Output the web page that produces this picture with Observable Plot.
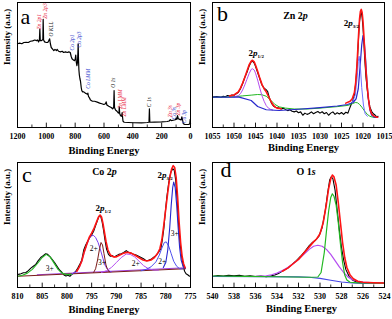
<!DOCTYPE html>
<html><head><meta charset="utf-8">
<script src="https://cdn.jsdelivr.net/npm/d3@7"></script>
<script src="https://cdn.jsdelivr.net/npm/@observablehq/plot@0.6"></script>
<style>
body{margin:0;background:#fff;}
#wrap{position:relative;width:392px;height:319px;overflow:hidden;background:#fff;}
#wrap svg{position:absolute;overflow:visible;}
</style></head><body><div id="wrap"></div>
<script>
// ---------- Panel a: survey ----------
const surveyTicks = [1200,1000,800,600,400,200,0];
const surveyMinor = [1100,900,700,500,300,100];
const survey = [[1200,67],[1185,67.5],[1170,67],[1156,68],[1140,68.2],[1125,68],[1110,69],[1095,69.3],[1080,70],[1068,69.5],[1060,70],[1054,68.5],[1048,70],[1045,78.5],[1042,69.5],[1035,69.5],[1028,70],[1024,70.5],[1022,86.5],[1019,70],[1012,68.5],[1000,68],[990,68],[983,69.5],[977,71],[972,67],[966,64],[955,62.5],[948,61.5],[940,62.5],[930,61.5],[925,62.5],[915,61],[902,60.5],[890,61],[880,60],[867,60.5],[855,60],[844,60.5],[834,60],[828,57],[822,55],[812,54],[805,53.5],[800,54.5],[796,58],[792,52],[788,49.5],[784,52],[781,60],[779,67],[777,55],[774,46],[771,42],[767,39],[763,37],[758,32],[754,29.5],[748,28.5],[740,28.5],[730,27.5],[721,27],[715,26.5],[712,27.5],[708,25],[700,23.5],[694,22],[680,21],[665,21],[647,20.3],[630,19.5],[615,19],[601,18.4],[590,19],[585,20.5],[580,18],[567,17],[550,16],[540,15],[533,16],[530,29.5],[527,16],[520,14],[510,13],[500,11.5],[496,12],[494,16.5],[491,11],[485,9.5],[478,9],[474,12],[471,8],[468,5],[460,4.2],[430,4],[393,3.8],[340,3.7],[300,4],[288,4.2],[285,15],[282,4.2],[250,4.3],[200,4.5],[162,4.8],[148,5.2],[140,6.2],[132,5.5],[120,5.8],[105,6.2],[100,7.5],[95,6.5],[90,9.5],[85,7],[75,6.5],[65,6],[60,8.5],[55,6],[50,3],[40,2.5],[25,2.4],[12,2.4],[5,3],[2,6.5],[0,3]];
const surveyLabels = [
  ["Zn 2p1",1049,78.4,"#e8203c"],["Zn 2p3",1006,87,"#e8203c"],["O KLL",969,72.8,"#111"],
  ["Co 2p1",819,61.6,"#2a3ccc"],["Co 2p3",772,64,"#2a3ccc"],["Co LMM",712,31,"#2a3ccc"],
  ["O 1s",536,31.8,"#111"],["Zn LMM",490,15,"#e8203c"],["Zn LMM",463,8.8,"#e8203c"],
  ["C 1s",284,16.3,"#111"],["Zn 3s",144,8.3,"#e8203c"],["Co 3s",116,6.4,"#2a3ccc"],
  ["Zn 3p",85,9.6,"#e8203c"],["Co 3p",42,3.4,"#2a3ccc"]
];

// ---------- Panel b: Zn 2p ----------
const znTicks = [1055,1050,1045,1040,1035,1030,1025,1020,1015];
const znMinor = [1052.5,1047.5,1042.5,1037.5,1032.5,1027.5,1022.5,1017.5];
const znRaw = [[1055,24.3],[1054,24.8],[1053,24.2],[1052.5,25],[1052,24.6],[1051.5,25.6],[1051,25.2],[1050.5,26],[1050,25.8],[1049.5,27],[1049,28],[1048.5,31],[1048,35],[1047.5,40],[1047,44],[1046.5,49],[1046,52.5],[1045.7,53],[1045.3,51.5],[1045,49],[1044.5,44],[1044,39],[1043.5,34],[1043,31.5],[1042.6,30.5],[1042.2,29],[1041.8,24],[1041.3,19.5],[1040.8,17],[1040.2,16],[1039.5,15.5],[1039,14.8],[1038.5,15.5],[1038,14.3],[1037.5,13.5],[1037,14.2],[1036.5,13],[1036,12.5],[1035.5,13.2],[1035,11.8],[1034.5,12.5],[1034,9.8],[1033.5,11.5],[1033,10.5],[1032.5,11.2],[1032,12.5],[1031.5,11],[1031,12],[1030.5,12.8],[1030,11.5],[1029.5,12.6],[1029,11],[1028.5,12],[1028,9.8],[1027.5,11.5],[1027,12.5],[1026.5,10.5],[1026,11.8],[1025.5,10.8],[1025,12],[1024.5,10.5],[1024,12.2],[1023.5,11.5],[1023.2,14.5],[1022.8,18],[1022.4,21],[1022,26],[1021.7,35],[1021.4,48],[1021.2,61],[1021,74],[1020.8,85],[1020.6,90],[1020.4,92],[1020.2,88],[1020,80],[1019.8,68],[1019.6,55],[1019.3,40],[1019,30],[1018.7,22],[1018.4,16.5],[1018,13],[1017.6,11],[1017.2,10],[1016.8,8.5],[1016.5,9]];
const znRedL = [[1051,25.3],[1050,26],[1049,28.5],[1048.5,31.5],[1048,35.5],[1047.5,40],[1047,45],[1046.5,50],[1046,53],[1045.7,53.8],[1045.3,52.5],[1045,50],[1044.5,45],[1044,39.5],[1043.5,34.5],[1043,31],[1042.5,28.5],[1042,25],[1041.5,21.5],[1041,18.5],[1040.5,16.5],[1040,15.5],[1039,15]];
const znRedR = [[1024,19.5],[1023,21],[1022.5,23],[1022,28],[1021.7,36],[1021.4,50],[1021.2,63],[1021,76],[1020.8,87],[1020.6,93],[1020.4,94.5],[1020.2,92],[1020,85],[1019.8,74],[1019.6,61],[1019.3,45],[1019,32],[1018.7,22],[1018.4,15],[1018,11],[1017.6,9.5],[1017,8.5],[1016.6,8.2]];
const znBlue = [[1055,24.3],[1048.8,24.3],[1046,21.6],[1044.5,16.8],[1042.5,14.2],[1039.5,13.6],[1035,14.6],[1030,15.9],[1026,17.2],[1023.6,18.4],[1022.3,20],[1021.6,23],[1021.1,31],[1020.7,48],[1020.3,66],[1020,73.6],[1019.7,68],[1019.4,55],[1019.1,38],[1018.8,24],[1018.4,14],[1018,10],[1017.5,8.5],[1017,8],[1016.6,8]];
const znBlue2 = [[1022.5,20],[1021.8,26],[1021.3,42],[1021.1,53],[1020.9,57],[1020.6,48],[1020.3,32],[1019.9,18],[1019.5,11],[1019,9]];
const znPurple = [[1050,24.5],[1049,25.5],[1048.5,27],[1048,30],[1047.5,34],[1047,38.5],[1046.5,43],[1046,46.5],[1045.7,47],[1045.3,46],[1045,43.5],[1044.5,38],[1044,31.5],[1043.5,25.5],[1043,21],[1042.5,17.5],[1042,15.5],[1041.5,14.5],[1041,14]];
const znGreen = [[1055,24.2],[1052,24.3],[1050,24.6],[1048,25.3],[1046,25.9],[1044.5,26.4],[1043.5,26.2],[1042.5,25],[1041.5,22],[1040.5,18.5],[1039.5,16.5],[1038,15.5],[1036,14.8],[1033,14.8],[1030,15.5],[1026,16.7],[1023.5,17.7],[1022.5,19],[1021.8,20],[1021.3,19.8],[1020.8,18.5],[1020.2,16],[1019.6,13],[1019,10.5],[1018.4,9],[1017.8,8.3],[1017,8],[1016.6,8]];

// ---------- Panel c: Co 2p ----------
const coTicks = [810,805,800,795,790,785,780,775];
const coMinor = [807.5,802.5,797.5,792.5,787.5,782.5,777.5];
const coRaw = [[809.8,10.5],[809.3,11],[808.8,11.8],[808.3,12],[807.8,13.5],[807.3,15.5],[806.8,17],[806.3,18.5],[805.8,21.5],[805.3,24],[804.8,25.5],[804.3,27],[803.9,26.5],[803.4,24.5],[803,22.5],[802.5,20],[802,17],[801.5,14],[801,12],[800.6,10],[800.2,9.2],[799.8,9.8],[799.4,9],[799,10.5],[798.6,11.5],[798.2,13],[797.8,15.5],[797.4,18.5],[797,22],[796.6,30],[796.2,34],[795.8,37],[795.4,40],[795,42],[794.6,45],[794.2,49.5],[793.8,54],[793.5,57],[793.2,57.5],[792.9,53],[792.6,46],[792.3,38],[792,31],[791.6,26.5],[791.2,25],[790.8,25.5],[790.4,24.5],[790,25.5],[789.5,26.5],[789,27],[788.5,28],[788,29.5],[787.5,28],[787,27.5],[786.5,26.5],[786,26],[785.5,25],[785,24],[784.5,23],[784,21.5],[783.5,21.8],[783,22.5],[782.5,24],[782,25.5],[781.5,28],[781,31],[780.7,38],[780.4,47],[780.1,60],[779.8,72],[779.4,84],[779,92],[778.6,95],[778.3,94],[778,86],[777.7,70],[777.4,50],[777.1,35],[776.8,25],[776.5,18],[776.2,13],[775.9,11],[775.5,10],[775.2,9]];
const coRed = [[798,13],[797.5,16.5],[797,21],[796.5,28.5],[796,34.5],[795.5,40],[795,43.5],[794.5,47.5],[794,52.5],[793.6,56.5],[793.3,58],[793,56.5],[792.7,51],[792.4,44],[792.1,37],[791.7,30],[791.2,26],[790.6,24.5],[790,24.5],[789.3,26],[788.5,27.5],[787.8,28.2],[787,27.5],[786.2,25.8],[785.4,23.8],[784.6,22],[783.8,21.2],[783,22],[782.3,24],[781.7,27],[781.2,31],[780.8,38],[780.4,50],[780,63],[779.6,76],[779.2,88],[778.8,95],[778.5,97.5],[778.2,96],[777.9,88],[777.6,72],[777.3,52],[777,36],[776.7,25],[776.4,19],[776.1,16]];
const coGreen = [[810,9],[809,9.8],[808,11.5],[807,14.5],[806,19],[805,24],[804.2,26.5],[803.4,24.5],[802.6,19.5],[801.8,14.5],[801,11.5],[800,10.3],[799,10.5]];
const coBase = [[810,9],[776,15]];
const coBase2 = [[806,10.2],[776,15.8]];
const coP1 = [[799,10.9],[798,13],[797.5,16],[797,21],[796.5,28],[796,34],[795.5,39],[795,41.5],[794.6,41.6],[794.2,40],[793.7,36],[793.2,30],[792.7,23],[792.2,17],[791.6,13.5],[791,12.5]];
const coB2 = [[794.6,12],[794.2,15],[793.8,22],[793.4,31],[793.1,36],[792.8,34],[792.5,27],[792.1,18],[791.7,13.5],[791.3,12.4]];
const coP3 = [[793,12],[792,13.5],[791,16],[790,20],[789,24],[788,26.8],[787.2,26.5],[786.3,24.5],[785.4,21],[784.5,17.5],[783.5,15],[782.5,14],[781.5,13.9]];
const coBl4 = [[785,13.4],[784,14.5],[783,16.5],[782,20.5],[781.3,26],[780.8,31.5],[780.3,36],[779.9,36.5],[779.4,33],[778.9,27],[778.4,21],[777.8,17],[777.2,15],[776.5,14.9]];
const coBl5 = [[780.5,16],[780,20],[779.6,30],[779.2,48],[778.9,66],[778.6,80],[778.4,84.3],[778.1,80],[777.8,66],[777.5,48],[777.2,32],[776.9,22],[776.5,17],[776.1,15.5]];
const coStates = [["3+",803.5,15.2],["2+",794.6,31],["3+",792.9,20.3],["2+",786.1,19],["2+",780.7,20.8],["3+",778.2,43]];

// ---------- Panel d: O 1s ----------
const oTicks = [540,538,536,534,532,530,528,526,524];
const oMinor = [539,537,535,533,531,529,527,525];
const oRaw = [[539.9,9],[539.5,9.6],[539,9.1],[538.5,9.8],[538,9.3],[537.5,9.7],[537,9],[536.5,9.4],[536,8.8],[535.5,9.2],[535,8.6],[534.6,9.2],[534.2,10],[533.8,11.5],[533.4,13.5],[533,15.5],[532.6,18.5],[532.2,21.5],[531.8,25],[531.4,29],[531,33.5],[530.7,36],[530.4,38],[530.1,41],[529.8,48],[529.5,62],[529.3,75],[529.1,86],[528.95,88.5],[528.8,87],[528.6,78],[528.4,62],[528.2,46],[528,32],[527.8,22],[527.6,14.5],[527.3,9],[527,6],[526.6,4.5],[526,3.8],[525,3.6],[524.1,3.5]];
const oRed = [[533.5,13],[533,15.5],[532.5,19],[532,22.5],[531.5,27.5],[531,32.5],[530.6,36.5],[530.3,39],[530,43],[529.7,52],[529.4,67],[529.2,79],[529,87],[528.85,90],[528.7,88.5],[528.5,82],[528.3,68],[528.1,52],[527.9,36],[527.7,24],[527.5,16],[527.2,10],[526.9,7],[526.5,5],[526,4.2],[525,3.8],[524.1,3.6]];
const oGreen = [[540,9.2],[537,8.9],[534,8.6],[531,8.2],[530.2,8.4],[529.9,12],[529.6,28],[529.4,45],[529.2,61],[529,72],[528.85,75],[528.7,73],[528.5,66],[528.3,52],[528.1,35],[527.9,20],[527.7,10],[527.5,6],[527.2,4.2],[526.5,3.7],[524,3.4]];
const oPurple = [[536,8.9],[535,9.4],[534.5,10.2],[534,11.5],[533.5,13.5],[533,16],[532.5,19],[532,22.5],[531.5,26.5],[531,30.5],[530.6,33],[530.2,33.8],[529.8,33],[529.4,30.5],[529,26.5],[528.6,21.5],[528.2,16.5],[527.8,12],[527.4,8.5],[527,6.3],[526.5,5],[526,4.3],[525,3.8],[524,3.5]];
const oBlue = [[540,8.8],[535,8.7],[532,8.5],[531,8.2],[530,7.3],[529,5.8],[528,4.4],[527,3.6],[526,3.3],[524,3.2]];

const FONT = "'Liberation Serif','Times New Roman',serif";
const px = d => d[0], py = d => d[1];

function panel(o) {
  const marks = [
    Plot.ruleX(o.minor, {x: d => d, y1: 0, y2: 2, stroke: "black", strokeWidth: 0.8}),
    Plot.ruleX(o.ticks, {x: d => d, y1: 0, y2: 3.5, stroke: "black", strokeWidth: 0.9}),
    ...o.series.map(s => Plot.line(s.data, {x: px, y: py, stroke: s.color, strokeWidth: s.w ?? 1})),
    Plot.axisX({ticks: o.ticks, tickFormat: d => String(d), tickSize: 0, tickPadding: 6, fontSize: 8, fontWeight: "bold", label: null}),
    Plot.text(["Binding Energy"], {text: d => d, frameAnchor: "bottom", dx: o.xlDx, dy: o.xlDy, fontSize: 10.5, fontWeight: "bold"}),
    Plot.text(["Intensity (a.u.)"], {text: d => d, frameAnchor: "left", rotate: -90, dx: -10, fontSize: 9, fontWeight: "bold"}),
    Plot.text([o.letter], {text: d => d, frameAnchor: "top-left", textAnchor: "start", lineAnchor: "bottom", dx: o.lDx, dy: o.lDy, fontSize: 22, fontWeight: "normal"}),
    ...(o.extra || []),
    Plot.frame({stroke: "black", strokeWidth: 1})
  ];
  const svg = Plot.plot({
    width: 196, height: 160,
    marginLeft: o.ml, marginRight: o.mr, marginTop: o.mt, marginBottom: o.mb,
    x: {domain: o.domain},
    y: {domain: [0, 100], axis: null},
    style: {fontFamily: FONT, fontWeight: "bold", overflow: "visible", background: "transparent", color: "black"},
    marks
  });
  richify(svg);
  svg.style.left = o.left + "px";
  svg.style.top = o.top + "px";
  document.getElementById("wrap").appendChild(svg);
}

function richify(svg) {
  d3.select(svg).selectAll("text").each(function () {
    const t = this.textContent;
    if (!/[*_]/.test(t)) return;
    let main = t, sub = null;
    const k = t.indexOf("_");
    if (k >= 0) { main = t.slice(0, k); sub = t.slice(k + 1); }
    this.textContent = "";
    const sel = d3.select(this);
    main.split("*").forEach((seg, i) => {
      if (!seg) return;
      const ts = sel.append("tspan").text(seg);
      if (i % 2) ts.attr("font-style", "italic");
    });
    if (sub) sel.append("tspan").text(sub).attr("font-size", "0.55em").attr("dy", "0.4em");
  });
}

const RED = "#ff1414", GREEN = "#22b822", VIOLET = "#b54cf0";

panel({
  left: 0, top: 0, ml: 17, mr: 6, mt: 2, mb: 33, domain: [1200, 0],
  ticks: surveyTicks, minor: surveyMinor, letter: "a", lDx: 3, lDy: 21, xlDx: 0, xlDy: 26,
  series: [{data: survey, color: "black", w: 1.2}],
  extra: [Plot.text(surveyLabels, {x: d => d[1], y: d => d[2], text: d => d[0], fill: d => d[3], rotate: -90, textAnchor: "start", fontSize: 5.5, fontWeight: "normal", fontStyle: "italic"})]
});

panel({
  left: 196, top: 0, ml: 16, mr: 8, mt: 2, mb: 33, domain: [1055, 1015],
  ticks: znTicks, minor: znMinor, letter: "b", lDx: 4.5, lDy: 18, xlDx: 5, xlDy: 23,
  series: [
    {data: znRaw, color: "black", w: 1.1},
    {data: znGreen, color: GREEN, w: 1},
    {data: znPurple, color: VIOLET, w: 1},
    {data: znBlue, color: "#2828cc", w: 1.2},
    {data: znBlue2, color: "#7070ff", w: 1},
    {data: znRedL, color: RED, w: 1.6},
    {data: znRedR, color: RED, w: 1.6}
  ],
  extra: [
    Plot.text(["Zn 2*p*"], {text: d => d, x: 1035.7, y: 89.6, fontSize: 10, fontWeight: "bold"}),
    Plot.text(["2*p*_1/2"], {text: d => d, x: 1046.6, y: 59.2, textAnchor: "start", fontSize: 9, fontWeight: "bold"}),
    Plot.text(["2*p*_3/2"], {text: d => d, x: 1024.5, y: 83.2, textAnchor: "start", fontSize: 9, fontWeight: "bold"})
  ]
});

panel({
  left: 0, top: 159, ml: 17, mr: 6, mt: 3, mb: 32, domain: [810, 775],
  ticks: coTicks, minor: coMinor, letter: "c", lDx: 4.5, lDy: 19, xlDx: 0, xlDy: 25,
  series: [
    {data: coRaw, color: "black", w: 1.1},
    {data: coBase2, color: "#a040e0", w: 1},
    {data: coBase, color: "#7a1a1a", w: 1},
    {data: coGreen, color: GREEN, w: 1.1},
    {data: coP1, color: "#7a3cf0", w: 1},
    {data: coB2, color: "#7a1a1a", w: 1},
    {data: coP3, color: VIOLET, w: 1},
    {data: coBl4, color: "#5050ee", w: 1},
    {data: coBl5, color: "#2626d0", w: 1.1},
    {data: coRed, color: RED, w: 1.6}
  ],
  extra: [
    Plot.text(["Co 2*p*"], {text: d => d, x: 792.4, y: 92.2, fontSize: 10, fontWeight: "bold"}),
    Plot.text(["2*p*_1/2"], {text: d => d, x: 794.2, y: 63.2, textAnchor: "start", fontSize: 9, fontWeight: "bold"}),
    Plot.text(["2*p*_3/2"], {text: d => d, x: 781.7, y: 90.2, textAnchor: "start", fontSize: 9, fontWeight: "bold"}),
    Plot.text(coStates, {x: d => d[1], y: d => d[2], text: d => d[0], fontSize: 7.5, fontWeight: "normal"})
  ]
});

panel({
  left: 196, top: 159, ml: 16, mr: 8, mt: 3, mb: 32, domain: [540, 524],
  ticks: oTicks, minor: oMinor, letter: "d", lDx: 8, lDy: 14, xlDx: 3, xlDy: 24,
  series: [
    {data: oRaw, color: "black", w: 1.1},
    {data: oBlue, color: "#4646e6", w: 1.1},
    {data: oPurple, color: VIOLET, w: 1.2},
    {data: oGreen, color: GREEN, w: 1.2},
    {data: oRed, color: RED, w: 1.6}
  ],
  extra: [
    Plot.text(["O 1*s*"], {text: d => d, x: 531.3, y: 92.8, fontSize: 10, fontWeight: "bold"})
  ]
});
</script></body></html>
